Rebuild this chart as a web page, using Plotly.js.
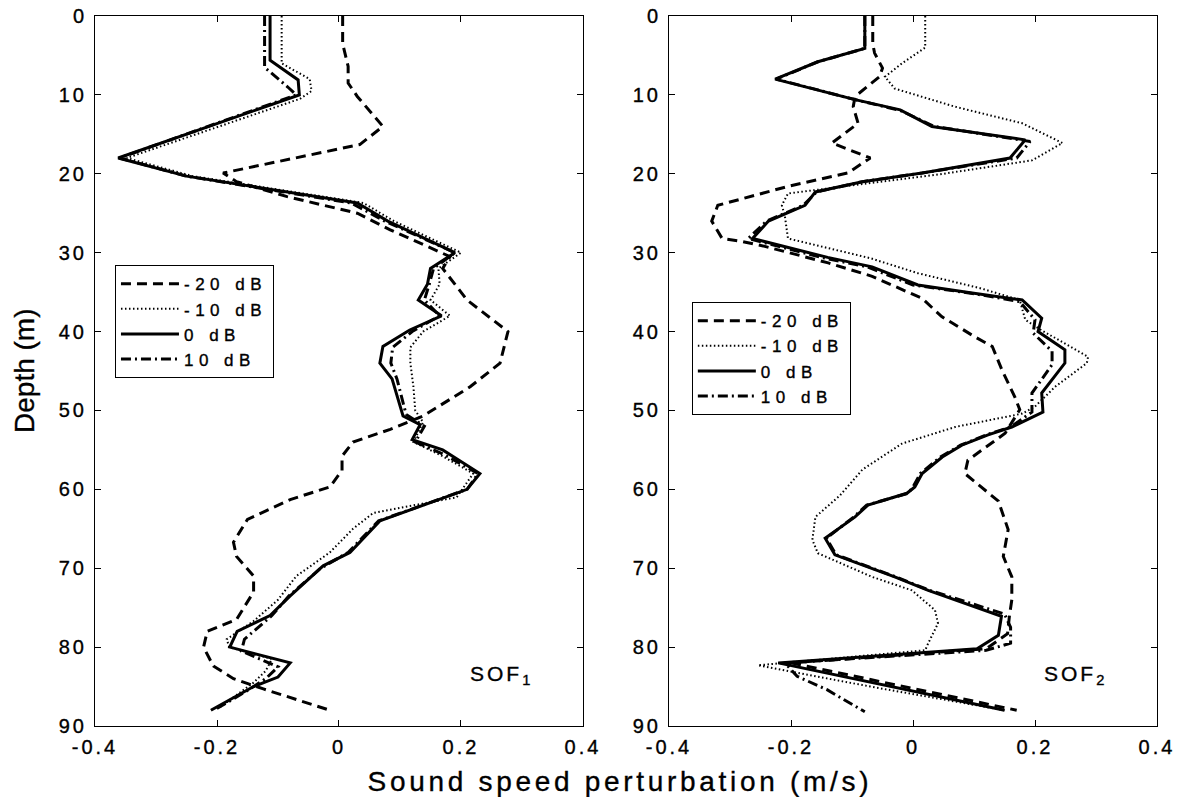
<!DOCTYPE html>
<html>
<head>
<meta charset="utf-8">
<script src="https://cdn.plot.ly/plotly-3.0.1.min.js"></script>
<style>
  html, body { margin: 0; padding: 0; background: #fff; }
  #chart { width: 1181px; height: 797px; }
  g.xtick text, g.ytick text, g.x2tick text, g.y2tick text { letter-spacing: 3px !important; }
  .legendtext, .legend2text { letter-spacing: 5.5px; }
  .annotation[data-index="0"] text { letter-spacing: 3.7px; }
  .annotation[data-index="2"] text, .annotation[data-index="3"] text { letter-spacing: 3px; }
  .main-svg text { stroke: #000; stroke-width: 0.35px; }
</style>
</head>
<body>
<div id="chart"></div>
<script>
// ---------------- data ----------------
const seriesNames = ['-20 dB', '-10 dB', '0 dB', '10 dB'];
const xTickVals = [-0.4, -0.2, 0, 0.2, 0.4];
const xTickText = ['-0.4', '-0.2', '0', '0.2', '0.4'];
const yTickVals = [0, 10, 20, 30, 40, 50, 60, 70, 80, 90];
const panelLabels = ['SOF<sub>1</sub>', 'SOF<sub>2</sub>'];

// Left panel (SOF1)
const L_m20_depth = [0, 3.5, 6.4, 8.5, 10.2, 12, 14, 16.3, 19.9, 21, 22.9, 25, 27.1, 30.5, 32, 36, 40, 44, 47, 50.7, 52.4, 54, 55.8, 57.6, 59.7, 61.3, 63.8, 66.7, 68.5, 71, 73, 76.5, 78, 80, 82.4, 84, 85.3, 88];
const L_m20_val = [0.006, 0.006, 0.015, 0.015, 0.03, 0.05, 0.072, 0.034, -0.19, -0.168, -0.085, 0.03, 0.084, 0.182, 0.17, 0.21, 0.277, 0.264, 0.215, 0.138, 0.084, 0.023, 0.005, 0.005, -0.015, -0.08, -0.15, -0.173, -0.168, -0.14, -0.14, -0.168, -0.216, -0.222, -0.206, -0.173, -0.124, -0.015];

const L_m10_depth = [0, 6, 8, 9.5, 10.5, 18, 20.3, 23.7, 26, 30, 32, 34, 36, 38, 40, 42, 44, 47, 50, 51.5, 54, 55.8, 58, 61, 63, 65, 68, 71, 74, 76.7, 79, 80, 81.5, 83, 84.5, 87.6];
const L_m10_val = [-0.094, -0.094, -0.048, -0.045, -0.064, -0.348, -0.24, 0.04, 0.09, 0.2, 0.163, 0.165, 0.15, 0.182, 0.138, 0.117, 0.117, 0.122, 0.125, 0.138, 0.122, 0.17, 0.22, 0.193, 0.056, 0.023, -0.015, -0.07, -0.1, -0.14, -0.184, -0.18, -0.11, -0.12, -0.14, -0.195];

const L_0_depth = [0, 5.6, 8.1, 10, 18, 20.3, 23.7, 26, 30, 32, 34, 36, 38, 39.8, 41.9, 44, 46, 50.7, 51.8, 53.7, 55, 58, 60, 64, 68, 69.7, 73.5, 76, 78, 80, 82, 83.8, 85, 88];
const L_0_val = [-0.113, -0.113, -0.067, -0.065, -0.362, -0.25, 0.03, 0.08, 0.19, 0.15, 0.145, 0.13, 0.168, 0.116, 0.072, 0.067, 0.087, 0.105, 0.133, 0.12, 0.17, 0.231, 0.21, 0.067, 0.018, -0.026, -0.08, -0.113, -0.167, -0.179, -0.08, -0.1, -0.14, -0.21];

const L_10_depth = [0, 6.5, 9, 10, 18, 20.3, 23.7, 26, 30, 32, 34, 36, 38, 40, 42, 44, 46, 50.5, 52, 54, 55.5, 58, 60, 64, 68, 70, 73.5, 76, 79, 80.5, 82.5, 84, 85.5, 88];
const L_10_val = [-0.122, -0.122, -0.084, -0.07, -0.36, -0.25, 0.02, 0.075, 0.19, 0.155, 0.148, 0.14, 0.165, 0.12, 0.088, 0.085, 0.095, 0.11, 0.14, 0.125, 0.17, 0.228, 0.21, 0.065, 0.015, -0.03, -0.082, -0.11, -0.155, -0.16, -0.1, -0.12, -0.15, -0.205];

// Right panel (SOF2)
const R_m20_depth = [0, 3.5, 4.7, 6.6, 7.7, 10.2, 11.5, 13.6, 16.1, 18, 19.9, 21.6, 24, 26, 28.2, 28.6, 29.2, 31.3, 33.0, 35.8, 38.1, 40.7, 41.9, 44.9, 48.3, 49.9, 52.9, 56.3, 58, 61.5, 65.1, 68.5, 71.1, 74, 76.1, 78.3, 80.2, 82, 88];
const R_m20_val = [-0.066, -0.066, -0.063, -0.05, -0.055, -0.095, -0.098, -0.09, -0.133, -0.07, -0.107, -0.205, -0.32, -0.33, -0.313, -0.279, -0.243, -0.139, -0.067, 0.015, 0.047, 0.102, 0.13, 0.146, 0.167, 0.175, 0.151, 0.09, 0.085, 0.14, 0.156, 0.148, 0.162, 0.162, 0.158, 0.155, 0.12, -0.2, 0.17];

const R_m10_depth = [0, 4, 6, 7.7, 9.2, 11.5, 13.6, 16.1, 18.3, 20.1, 22.5, 24, 25.4, 28.2, 30.7, 32.6, 34.5, 36.0, 38.5, 39.8, 43.2, 44.0, 47.0, 49.5, 50.4, 52.1, 54.2, 57.5, 60.8, 63.5, 66.4, 68.1, 71.1, 72.8, 75.3, 77.0, 79.5, 80.4, 82.3, 85, 88];
const R_m10_val = [0.02, 0.02, -0.018, -0.046, -0.03, 0.069, 0.179, 0.245, 0.195, 0.041, -0.205, -0.215, -0.21, -0.205, -0.07, 0.008, 0.11, 0.175, 0.184, 0.21, 0.287, 0.285, 0.233, 0.2, 0.179, 0.069, -0.018, -0.083, -0.12, -0.16, -0.165, -0.156, -0.067, -0.002, 0.036, 0.041, 0.025, 0.02, -0.254, -0.07, 0.15];

const R_0_depth = [0, 4.1, 5.8, 8.0, 10.6, 11.9, 14, 15.7, 18, 19.9, 21, 22.3, 24, 26, 28.2, 30.6, 31.8, 34.1, 35.1, 36.0, 38.3, 40.0, 42.3, 44.0, 47.8, 50.2, 52.1, 53.1, 54.4, 55.9, 58.0, 59.7, 60.5, 62, 63.5, 66.2, 68.3, 71.1, 72.8, 76.1, 78.5, 80.2, 82, 88];
const R_0_val = [-0.079, -0.079, -0.156, -0.226, -0.095, -0.021, 0.031, 0.184, 0.159, 0.015, -0.083, -0.16, -0.177, -0.237, -0.263, -0.14, -0.067, 0.008, 0.097, 0.179, 0.211, 0.205, 0.249, 0.249, 0.211, 0.213, 0.162, 0.123, 0.08, 0.048, 0.015, 0.003, -0.01, -0.074, -0.095, -0.144, -0.128, -0.03, 0.025, 0.145, 0.14, 0.105, -0.221, 0.15];

const R_10_depth = [0, 4.1, 5.8, 8.0, 10.6, 12, 14, 15.9, 18, 19.9, 21, 22.3, 24, 26, 28.2, 30.6, 31.8, 34.1, 35.2, 36.2, 38.5, 40.2, 42.5, 44.2, 47.8, 50.2, 52.1, 53.1, 54.4, 55.9, 58.0, 59.7, 60.5, 62, 63.5, 66.2, 68.3, 71.1, 72.8, 75.8, 77.5, 79.5, 80.4, 82, 83.7, 85.4, 88.2];
const R_10_val = [-0.079, -0.079, -0.156, -0.224, -0.095, -0.02, 0.035, 0.192, 0.17, 0.015, -0.083, -0.158, -0.18, -0.24, -0.27, -0.15, -0.075, 0.0, 0.1, 0.175, 0.2, 0.197, 0.228, 0.228, 0.195, 0.195, 0.16, 0.12, 0.078, 0.045, 0.012, 0.0, -0.008, -0.076, -0.097, -0.142, -0.126, -0.028, 0.027, 0.15, 0.16, 0.16, 0.12, -0.21, -0.19, -0.141, -0.079];

// ---------------- styles ----------------
const FONT = 'Liberation Sans, Arial, Helvetica, sans-serif';
const lineStyles = [
  {color: '#000', width: 3, dash: '10px,6px'},
  {color: '#000', width: 2, dash: '1.5px,2.5px'},
  {color: '#000', width: 3, dash: 'solid'},
  {color: '#000', width: 3, dash: '10px,4px,2px,4px'}
];

const leftSets = [[L_m20_val, L_m20_depth], [L_m10_val, L_m10_depth], [L_0_val, L_0_depth], [L_10_val, L_10_depth]];
const rightSets = [[R_m20_val, R_m20_depth], [R_m10_val, R_m10_depth], [R_0_val, R_0_depth], [R_10_val, R_10_depth]];

const traces = [];
leftSets.forEach((s, i) => traces.push({
  x: s[0], y: s[1], type: 'scatter', mode: 'lines', name: seriesNames[i],
  line: lineStyles[i], xaxis: 'x', yaxis: 'y', legend: 'legend', hoverinfo: 'skip'
}));
rightSets.forEach((s, i) => traces.push({
  x: s[0], y: s[1], type: 'scatter', mode: 'lines', name: seriesNames[i],
  line: lineStyles[i], xaxis: 'x2', yaxis: 'y2', legend: 'legend2', hoverinfo: 'skip'
}));

function xAxis(domain, anchor) {
  return {
    domain: domain, anchor: anchor, range: [-0.4, 0.4],
    tickmode: 'array', tickvals: xTickVals, ticktext: xTickText,
    ticks: 'inside', ticklen: 6, tickwidth: 1, tickcolor: '#000',
    showline: true, linecolor: '#000', linewidth: 1, mirror: 'ticks',
    showgrid: false, zeroline: false, ticklabelstandoff: 3,
    tickfont: {family: FONT, size: 20, color: '#000'}
  };
}
function yAxis(anchor) {
  return {
    domain: [0, 1], anchor: anchor, range: [90, 0],
    tickmode: 'array', tickvals: yTickVals,
    ticks: 'inside', ticklen: 6, tickwidth: 1, tickcolor: '#000',
    showline: true, linecolor: '#000', linewidth: 1, mirror: 'ticks',
    showgrid: false, zeroline: false, ticklabelstandoff: 3,
    tickfont: {family: FONT, size: 20, color: '#000'}
  };
}
function legendBox(x, y) {
  return {
    x: x, y: y, xanchor: 'left', yanchor: 'top',
    bgcolor: '#fff', bordercolor: '#000', borderwidth: 1,
    font: {family: FONT, size: 17, color: '#000'},
    itemwidth: 58, tracegroupgap: 0, traceorder: 'normal'
  };
}

const layout = {
  width: 1181, height: 797,
  margin: {l: 95, r: 24, t: 16, b: 71},
  paper_bgcolor: '#fff', plot_bgcolor: '#fff',
  showlegend: true,
  xaxis: xAxis([0, 0.4595], 'y'),
  yaxis: yAxis('x'),
  xaxis2: xAxis([0.5405, 1], 'y2'),
  yaxis2: yAxis('x2'),
  legend: legendBox(0.0188, 0.649),
  legend2: legendBox(0.562, 0.597),
  annotations: [
    {text: 'Sound speed perturbation (m/s)', xref: 'paper', yref: 'paper',
     x: 0.4944, y: -0.0775, xanchor: 'center', yanchor: 'middle', showarrow: false,
     font: {family: FONT, size: 28, color: '#000'}},
    {text: 'Depth (m)', xref: 'paper', yref: 'paper', textangle: -90,
     x: -0.0669, y: 0.5, xanchor: 'center', yanchor: 'middle', showarrow: false,
     font: {family: FONT, size: 28, color: '#000'}},
    {text: panelLabels[0], xref: 'x', yref: 'y', x: 0.222, y: 83.5,
     xanchor: 'left', yanchor: 'middle', showarrow: false,
     font: {family: FONT, size: 21, color: '#000'}},
    {text: panelLabels[1], xref: 'x2', yref: 'y2', x: 0.222, y: 83.5,
     xanchor: 'left', yanchor: 'middle', showarrow: false,
     font: {family: FONT, size: 21, color: '#000'}}
  ]
};

function spaceTicks(gd) {
  gd.querySelectorAll('g.xtick text, g.ytick text, g.x2tick text, g.y2tick text').forEach(function (t) {
    t.setAttribute('letter-spacing', '3px');
    t.style.setProperty('letter-spacing', '3px', 'important');
  });
}
Plotly.newPlot('chart', traces, layout, {staticPlot: true, displayModeBar: false}).then(function (gd) {
  spaceTicks(gd);
  gd.on('plotly_afterplot', function () { spaceTicks(gd); });
});
</script>
</body>
</html>
